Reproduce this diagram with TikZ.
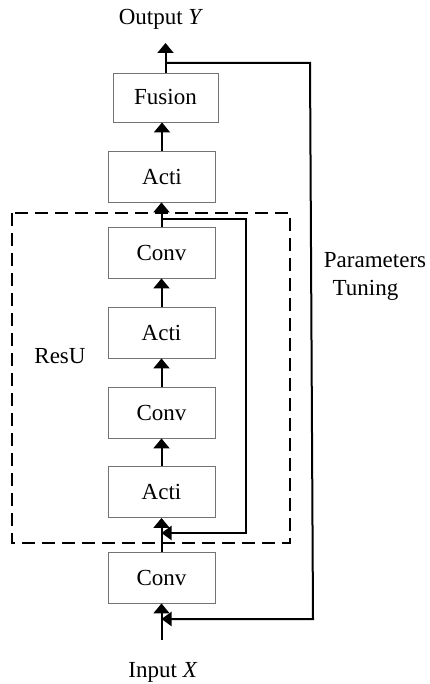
\documentclass[tikz,border=0pt]{standalone}
\usepackage{fontspec}
\setmainfont{Liberation Serif}
\usetikzlibrary{arrows.meta}
\begin{document}
\begin{tikzpicture}[x=1pt,y=-1pt,
  font=\fontsize{23}{27}\selectfont,
  blk/.style={draw=black!55, line width=0.9pt, fill=white, minimum width=107pt, minimum height=51pt, inner sep=0pt},
  arr/.style={line width=2pt, -{Triangle[width=16pt,length=10pt]}},
  arrl/.style={line width=2pt, -{Triangle[width=14pt,length=10pt]}},
  dbox/.style={line width=2pt, dash pattern=on 13pt off 7pt},
  lbl/.style={anchor=base, inner sep=0pt}]
\useasboundingbox (0,0) rectangle (429,684);
% dashed ResU box
\draw[dbox] (12,213) rectangle (290,543);
% blocks
\node[blk, minimum width=105pt, minimum height=49pt] (fusion) at (165.5,97.5) {Fusion};
\node[blk] (acti0) at (162,176.5) {Acti};
\node[blk] (conv1) at (161.5,252.5) {Conv};
\node[blk] (acti1) at (161.5,332.5) {Acti};
\node[blk] (conv2) at (161.5,412.5) {Conv};
\node[blk] (acti2) at (161.5,492) {Acti};
\node[blk] (conv3) at (161.5,577.5) {Conv};
% labels
\node[lbl] (outlbl) at (161,25) {Output \textit{Y}};
\node[lbl] (inlbl) at (163,677) {Input \textit{X}};
\node[lbl] (resu) at (60,363) {ResU};
\node[lbl] (par) at (375,267) {Parameters};
\node[lbl] (tun) at (365.5,295) {Tuning};
% coordinates
\coordinate (outtip) at (165.5,43);
\coordinate (inbot) at (161.5,640);
\coordinate (s1) at (161.5,219);
\coordinate (sk1) at (246,219);
\coordinate (sk2) at (246,533);
\coordinate (sk3) at (161.5,533);
\coordinate (o1) at (165.5,63);
\coordinate (o2) at (310,63);
\coordinate (o3) at (313,619);
\coordinate (o4) at (161.5,619);
% main flow
\draw[arr] (inbot) -- (conv3.south);
\draw[arr] (conv3.north) -- (acti2.south);
\draw[arr] (acti2.north) -- (conv2.south);
\draw[arr] (conv2.north) -- (acti1.south);
\draw[arr] (acti1.north) -- (conv1.south);
\draw[arr] (conv1.north) -- (conv1.north |- acti0.south);
\draw[arr] (acti0.north) -- (acti0.north |- fusion.south);
\draw[arr] (fusion.north) -- (outtip);
% skip connection
\draw[arrl] (s1) -- (sk1) -- (sk2) -- (sk3);
% parameter tuning loop
\draw[arrl] (o1) -- (o2) -- (o3) -- (o4);
\end{tikzpicture}
\end{document}
